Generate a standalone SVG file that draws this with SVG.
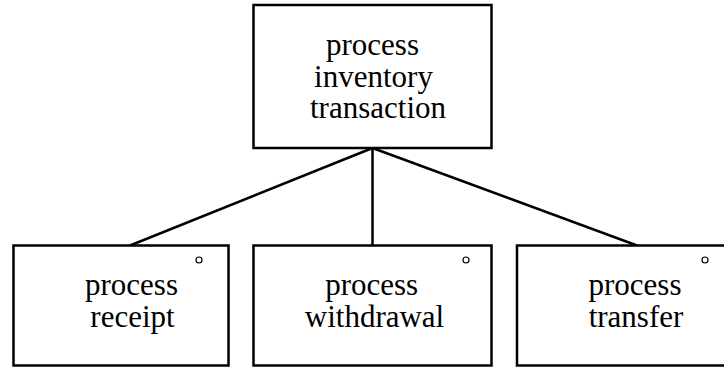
<svg xmlns="http://www.w3.org/2000/svg" width="724" height="368" viewBox="0 0 724 368">
  <defs>
    <style>
      .box { fill: #ffffff; stroke: #000000; stroke-width: 2.5; }
      .link { fill: none; stroke: #000000; stroke-width: 2.5; }
      .label { font-family: "Liberation Serif", "Times New Roman", serif; font-size: 31px; fill: #000000; text-anchor: middle; }
      .mark { fill: none; stroke: #000000; stroke-width: 1.2; }
    </style>
  </defs>
  <rect width="724" height="368" fill="#ffffff"/>

  <!-- connectors from the parent process to its three sub-processes -->
  <g id="connectors">
    <line class="link" x1="372.5" y1="148" x2="130" y2="245.5"/>
    <line class="link" x1="372.5" y1="148" x2="372.5" y2="245.5"/>
    <line class="link" x1="372.5" y1="148" x2="637" y2="245.5"/>
  </g>

  <g id="process-inventory-transaction">
    <rect class="box" x="253.5" y="5" width="238" height="143"/>
    <text class="label"><tspan x="372.5" y="55">process</tspan><tspan x="373.5" y="86.5">inventory</tspan><tspan x="378" y="118">transaction</tspan></text>
  </g>

  <g id="process-receipt">
    <rect class="box" x="13.5" y="245.5" width="215" height="120"/>
    <circle class="mark" cx="199" cy="260" r="3"/>
    <text class="label"><tspan x="131.5" y="295">process</tspan><tspan x="132.5" y="326.5">receipt</tspan></text>
  </g>

  <g id="process-withdrawal">
    <rect class="box" x="253.5" y="245.5" width="238" height="120"/>
    <circle class="mark" cx="466" cy="260" r="3"/>
    <text class="label"><tspan x="371.7" y="295">process</tspan><tspan x="374.5" y="326.5">withdrawal</tspan></text>
  </g>

  <g id="process-transfer">
    <rect class="box" x="517" y="245.5" width="216" height="120"/>
    <circle class="mark" cx="705" cy="260" r="3"/>
    <text class="label"><tspan x="635" y="295">process</tspan><tspan x="636" y="326.5">transfer</tspan></text>
  </g>
</svg>
